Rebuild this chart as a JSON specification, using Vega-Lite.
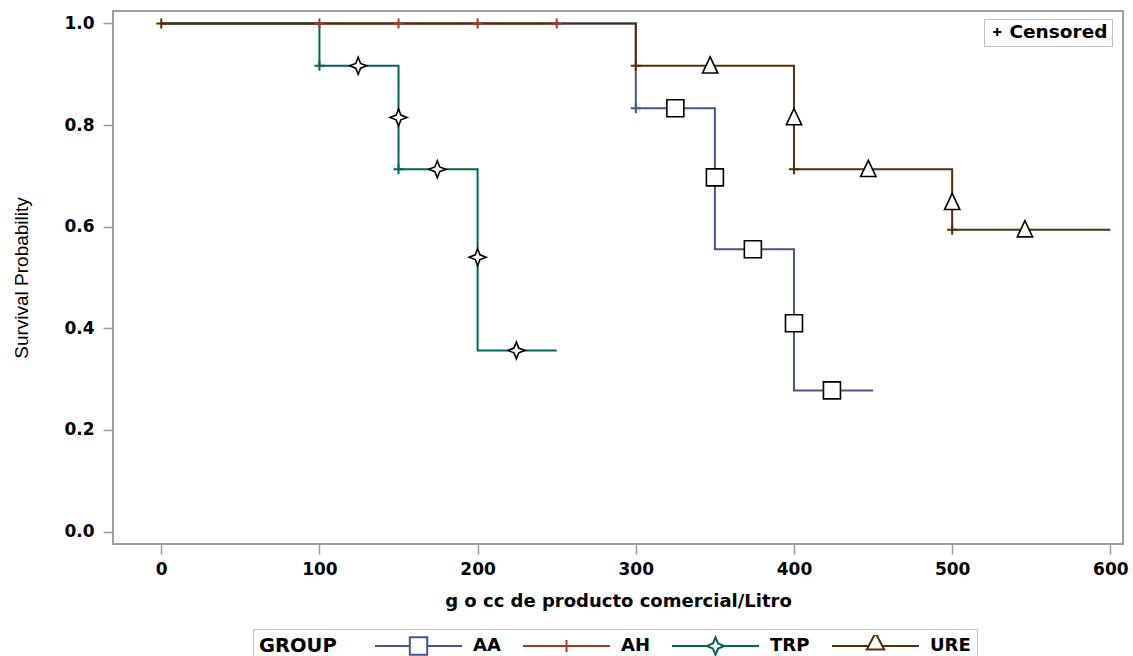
{
  "$schema": "https://vega.github.io/schema/vega-lite/v6.json",
  "autosize": "none",
  "width": 1010,
  "height": 533,
  "padding": {"left": 113, "top": 11, "right": 10, "bottom": 112},
  "background": "white",
  "config": {
    "view": {"stroke": "#a0a0a0", "strokeWidth": 2},
    "axis": {
      "domain": false,
      "grid": false,
      "tickColor": "#9a9a9a",
      "tickWidth": 1.5,
      "tickSize": 10,
      "labelFont": "DejaVu Sans",
      "labelFontWeight": "bold",
      "labelFontSize": 17,
      "labelColor": "black",
      "titleColor": "black"
    }
  },
  "datasets": {
    "curves": [
      {"group": "AA", "x": 0, "s": 1.0},
      {"group": "AA", "x": 300, "s": 0.8333},
      {"group": "AA", "x": 350, "s": 0.5556},
      {"group": "AA", "x": 400, "s": 0.2778},
      {"group": "AA", "x": 450, "s": 0.2778},
      {"group": "AH", "x": 0, "s": 1.0},
      {"group": "AH", "x": 250, "s": 1.0},
      {"group": "TRP", "x": 0, "s": 1.0},
      {"group": "TRP", "x": 100, "s": 0.9167},
      {"group": "TRP", "x": 150, "s": 0.713},
      {"group": "TRP", "x": 200, "s": 0.3565},
      {"group": "TRP", "x": 250, "s": 0.3565},
      {"group": "URE", "x": 0, "s": 1.0},
      {"group": "URE", "x": 300, "s": 0.9167},
      {"group": "URE", "x": 400, "s": 0.713},
      {"group": "URE", "x": 500, "s": 0.5942},
      {"group": "URE", "x": 600, "s": 0.5942}
    ],
    "markers": [
      {"group": "AA", "x": 325, "s": 0.8333},
      {"group": "AA", "x": 350, "s": 0.697},
      {"group": "AA", "x": 374, "s": 0.5556},
      {"group": "AA", "x": 400, "s": 0.41},
      {"group": "AA", "x": 424, "s": 0.2778},
      {"group": "TRP", "x": 124.5, "s": 0.9167},
      {"group": "TRP", "x": 150, "s": 0.815},
      {"group": "TRP", "x": 174.5, "s": 0.713},
      {"group": "TRP", "x": 200, "s": 0.54},
      {"group": "TRP", "x": 224.5, "s": 0.3565},
      {"group": "URE", "x": 347, "s": 0.9167},
      {"group": "URE", "x": 400, "s": 0.815},
      {"group": "URE", "x": 447, "s": 0.713},
      {"group": "URE", "x": 500, "s": 0.648},
      {"group": "URE", "x": 546, "s": 0.5942}
    ],
    "censored": [
      {"group": "URE", "x": 0, "s": 1.0, "kind": "Censored"},
      {"group": "AH", "x": 100, "s": 1.0, "kind": "Censored"},
      {"group": "AH", "x": 150, "s": 1.0, "kind": "Censored"},
      {"group": "AH", "x": 200, "s": 1.0, "kind": "Censored"},
      {"group": "AH", "x": 250, "s": 1.0, "kind": "Censored"},
      {"group": "TRP", "x": 100, "s": 0.9167, "kind": "Censored"},
      {"group": "TRP", "x": 150, "s": 0.713, "kind": "Censored"},
      {"group": "AA", "x": 300, "s": 0.8333, "kind": "Censored"},
      {"group": "URE", "x": 300, "s": 0.9167, "kind": "Censored"},
      {"group": "URE", "x": 400, "s": 0.713, "kind": "Censored"},
      {"group": "URE", "x": 500, "s": 0.5942, "kind": "Censored"}
    ]
  },
  "encoding": {
    "x": {
      "field": "x", "type": "quantitative",
      "scale": {"domain": [-30.5, 608], "nice": false, "zero": false},
      "axis": {
        "title": "g o cc de producto comercial/Litro",
        "values": [0, 100, 200, 300, 400, 500, 600],
        "labelPadding": 7,
        "titleFont": "DejaVu Sans", "titleFontWeight": "bold", "titleFontSize": 18,
        "titlePadding": 15
      }
    },
    "y": {
      "field": "s", "type": "quantitative",
      "scale": {"domain": [-0.0246, 1.0246], "nice": false, "zero": false},
      "axis": {
        "title": "Survival Probability",
        "values": [0, 0.2, 0.4, 0.6, 0.8, 1.0],
        "format": ".1f",
        "labelPadding": 9,
        "titleFont": "Liberation Sans", "titleFontWeight": "normal", "titleFontSize": 19,
        "titlePadding": 32
      }
    }
  },
  "layer": [
    {
      "data": {"name": "curves"},
      "mark": {"type": "line", "interpolate": "step-after", "strokeWidth": 2},
      "encoding": {
        "color": {
          "field": "group", "type": "nominal",
          "scale": {"domain": ["AA", "AH", "TRP", "URE"], "range": ["#445694", "#A23A2E", "#01665E", "#543005"]},
          "legend": {
            "title": "GROUP",
            "orient": "none", "legendX": 140, "legendY": 618,
            "direction": "horizontal",
            "titleOrient": "left",
            "titleFont": "DejaVu Sans", "titleFontWeight": "bold", "titleFontSize": 19.5, "titleColor": "black",
            "titlePadding": 37,
            "labelFont": "DejaVu Sans", "labelFontWeight": "bold", "labelFontSize": 18, "labelColor": "black",
            "labelOffset": 10,
            "symbolSize": 7569,
            "symbolStrokeWidth": 2,
            "columnPadding": 21,
            "padding": 6,
            "clipHeight": 22,
            "strokeColor": "#c0c0c0",
            "encode": {
              "symbols": {
                "update": {
                  "shape": {"signal": "datum.value === 'AA' ? 'M-1,0H-0.2M0.2,0H1M-0.2,-0.2H0.2V0.2H-0.2Z' : datum.value === 'AH' ? 'M-1,0H1M0,-0.14V0.14' : datum.value === 'TRP' ? 'M-1,0H-0.2M0.2,0H1M0,-0.2L0.06,-0.06L0.2,0L0.06,0.06L0,0.2L-0.06,0.06L-0.2,0L-0.06,-0.06Z' : 'M-1,0H-0.16M0.16,0H1M0,-0.3L0.2,0.08H-0.2Z'"},
                  "fill": {"value": "white"},
                  "strokeWidth": {"value": 2}
                }
              }
            }
          }
        }
      }
    },
    {
      "data": {"name": "markers"},
      "mark": {"type": "point", "filled": false, "fill": "white", "stroke": "black", "strokeWidth": 1.6, "size": 289, "opacity": 1},
      "encoding": {
        "shape": {
          "field": "group", "type": "nominal",
          "scale": {"domain": ["AA", "TRP", "URE"], "range": ["square", "M0,-1L0.28,-0.28L1,0L0.28,0.28L0,1L-0.28,0.28L-1,0L-0.28,-0.28Z", "M0,-1.05L0.9,0.85H-0.9Z"]},
          "legend": null
        }
      }
    },
    {
      "data": {"name": "censored"},
      "mark": {"type": "point", "filled": false, "shape": "M-1,0H1M0,-1V1", "size": 100, "strokeWidth": 2, "opacity": 1},
      "encoding": {
        "color": {"field": "group", "type": "nominal"},
        "fill": {
          "field": "kind", "type": "nominal",
          "scale": {"domain": ["Censored"], "range": ["black"]},
          "legend": {
            "title": null,
            "orient": "none", "legendX": 871, "legendY": 8,
            "symbolType": "M-1,0H1M0,-1V1",
            "symbolSize": 64,
            "symbolStrokeWidth": 2,
            "symbolStrokeColor": "black",
            "labelFont": "DejaVu Sans", "labelFontWeight": "bold", "labelFontSize": 18.5, "labelColor": "black",
            "labelOffset": 3,
            "padding": 4,
            "clipHeight": 18,
            "strokeColor": "#c0c0c0",
            "encode": {
              "symbols": {
                "update": {
                  "shape": {"value": "M-1,0H1M0,-1V1"},
                  "stroke": {"value": "black"},
                  "strokeWidth": {"value": 2},
                  "strokeOpacity": {"value": 1},
                  "opacity": {"value": 1},
                  "fill": {"value": "black"}
                }
              }
            }
          }
        }
      }
    }
  ]
}
